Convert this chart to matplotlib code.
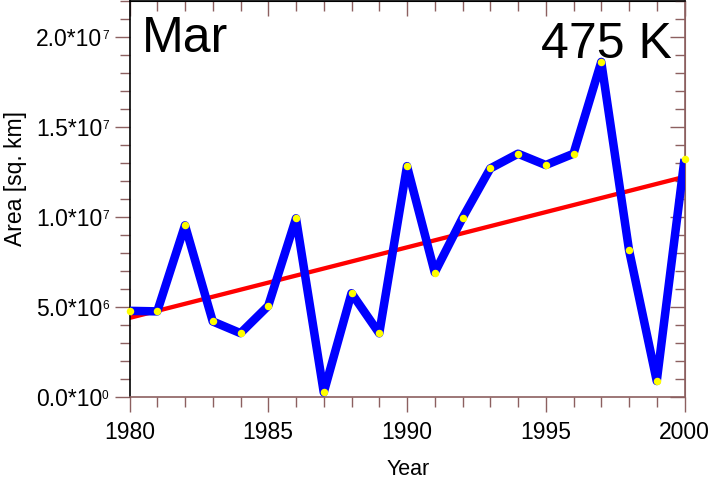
import numpy as np
import matplotlib
matplotlib.use("Agg")
import matplotlib.pyplot as plt
from matplotlib.ticker import MultipleLocator, FixedLocator, NullFormatter

plt.rcParams['font.family'] = ['Liberation Sans', 'DejaVu Sans']

years = list(range(1980, 2001))
area = [4.77e6, 4.74e6, 9.52e6, 4.18e6, 3.53e6, 5.05e6, 9.91e6, 0.24e6, 5.75e6, 3.52e6,
        12.81e6, 6.90e6, 9.93e6, 12.68e6, 13.50e6, 12.87e6, 13.50e6, 18.60e6, 8.15e6, 0.87e6,
        13.20e6]
ytick_vals = [0.0, 5.0e6, 1.0e7, 1.5e7, 2.0e7]
ytick_mantissa = ['0.0*10', '5.0*10', '1.0*10', '1.5*10', '2.0*10']
ytick_exponent = ['0', '6', '7', '7', '7']
xtick_vals = [1980, 1985, 1990, 1995, 2000]
month_label = "Mar"
level_label = "475 K"
xlabel = "Year"
ylabel = "Area [sq. km]"

tick_col = '#8c6060'
PX = 72.0 / 100.0  # points per pixel

fig = plt.figure(figsize=(7.11, 4.85), dpi=100)
ax = fig.add_axes([129.5/711, 87.3/485, 555/711, 396.0/485])

x = np.array(years, dtype=float)
y = np.array(area)
coef = np.polyfit(x, y, 1)
ax.plot(x, np.polyval(coef, x), color='red', lw=4.3*PX, zorder=2, solid_capstyle='butt')
ax.plot(x, y, color='blue', lw=8.5*PX, zorder=3, solid_joinstyle='round', solid_capstyle='butt')
ax.plot(x, y, 'o', color='yellow', ms=7.5*PX, mec='none', zorder=4, clip_on=False)

ax.set_xlim(1980, 2000)
ax.set_ylim(0, 2.2e7)
ax.xaxis.set_major_locator(FixedLocator(xtick_vals))
ax.xaxis.set_minor_locator(MultipleLocator(1))
ax.yaxis.set_major_locator(FixedLocator(ytick_vals))
ax.yaxis.set_major_formatter(NullFormatter())
ax.yaxis.set_minor_locator(MultipleLocator(1e6))

ax.tick_params(which='major', direction='out', length=15*PX, width=1, color=tick_col,
               labelsize=16.5)
ax.tick_params(which='minor', direction='out', length=10*PX, width=1, color=tick_col)
ax.tick_params(axis='x', which='major', pad=6)

# y tick labels: mantissa with a small raised exponent
for v, m, e in zip(ytick_vals, ytick_mantissa, ytick_exponent):
    ax.annotate(m, xy=(0, v), xycoords=('axes fraction', 'data'),
                xytext=(-27.5*PX, -8.5*PX), textcoords='offset points',
                ha='right', va='baseline', fontsize=16.5, annotation_clip=False)
    ax.annotate(e, xy=(0, v), xycoords=('axes fraction', 'data'),
                xytext=(-27.5*PX, -1.5*PX), textcoords='offset points',
                ha='left', va='baseline', fontsize=8.5, annotation_clip=False)

secx = ax.secondary_xaxis('top')
secx.xaxis.set_major_locator(FixedLocator(xtick_vals))
secx.xaxis.set_minor_locator(MultipleLocator(1))
secx.tick_params(which='major', direction='in', length=15*PX, width=1, color=tick_col, labeltop=False)
secx.tick_params(which='minor', direction='in', length=10*PX, width=1, color=tick_col)
secx.spines['top'].set_color('black')

secy = ax.secondary_yaxis('right')
secy.yaxis.set_major_locator(FixedLocator(ytick_vals))
secy.yaxis.set_minor_locator(MultipleLocator(1e6))
secy.tick_params(which='major', direction='in', length=15*PX, width=1, color=tick_col, labelright=False)
secy.tick_params(which='minor', direction='in', length=10*PX, width=1, color=tick_col)
secy.spines['right'].set_color(tick_col)

ax.spines['left'].set_color('black')
ax.spines['bottom'].set_color(tick_col)
ax.spines['right'].set_color(tick_col)
ax.spines['top'].set_color('black')
for s in ax.spines.values():
    s.set_linewidth(1.2)

fig.text(408/711, 1 - 475/485, xlabel, fontsize=15.5, ha='center', va='baseline')
fig.text(16/711, 1 - 178.5/485, ylabel, fontsize=16.5, ha='center', va='center', rotation=90)

ax.text(0.022, 0.965, month_label, transform=ax.transAxes, fontsize=36, ha='left', va='top')
ax.text(0.977, 0.95, level_label, transform=ax.transAxes, fontsize=36, ha='right', va='top')

fig.savefig('out.png', dpi=100)
